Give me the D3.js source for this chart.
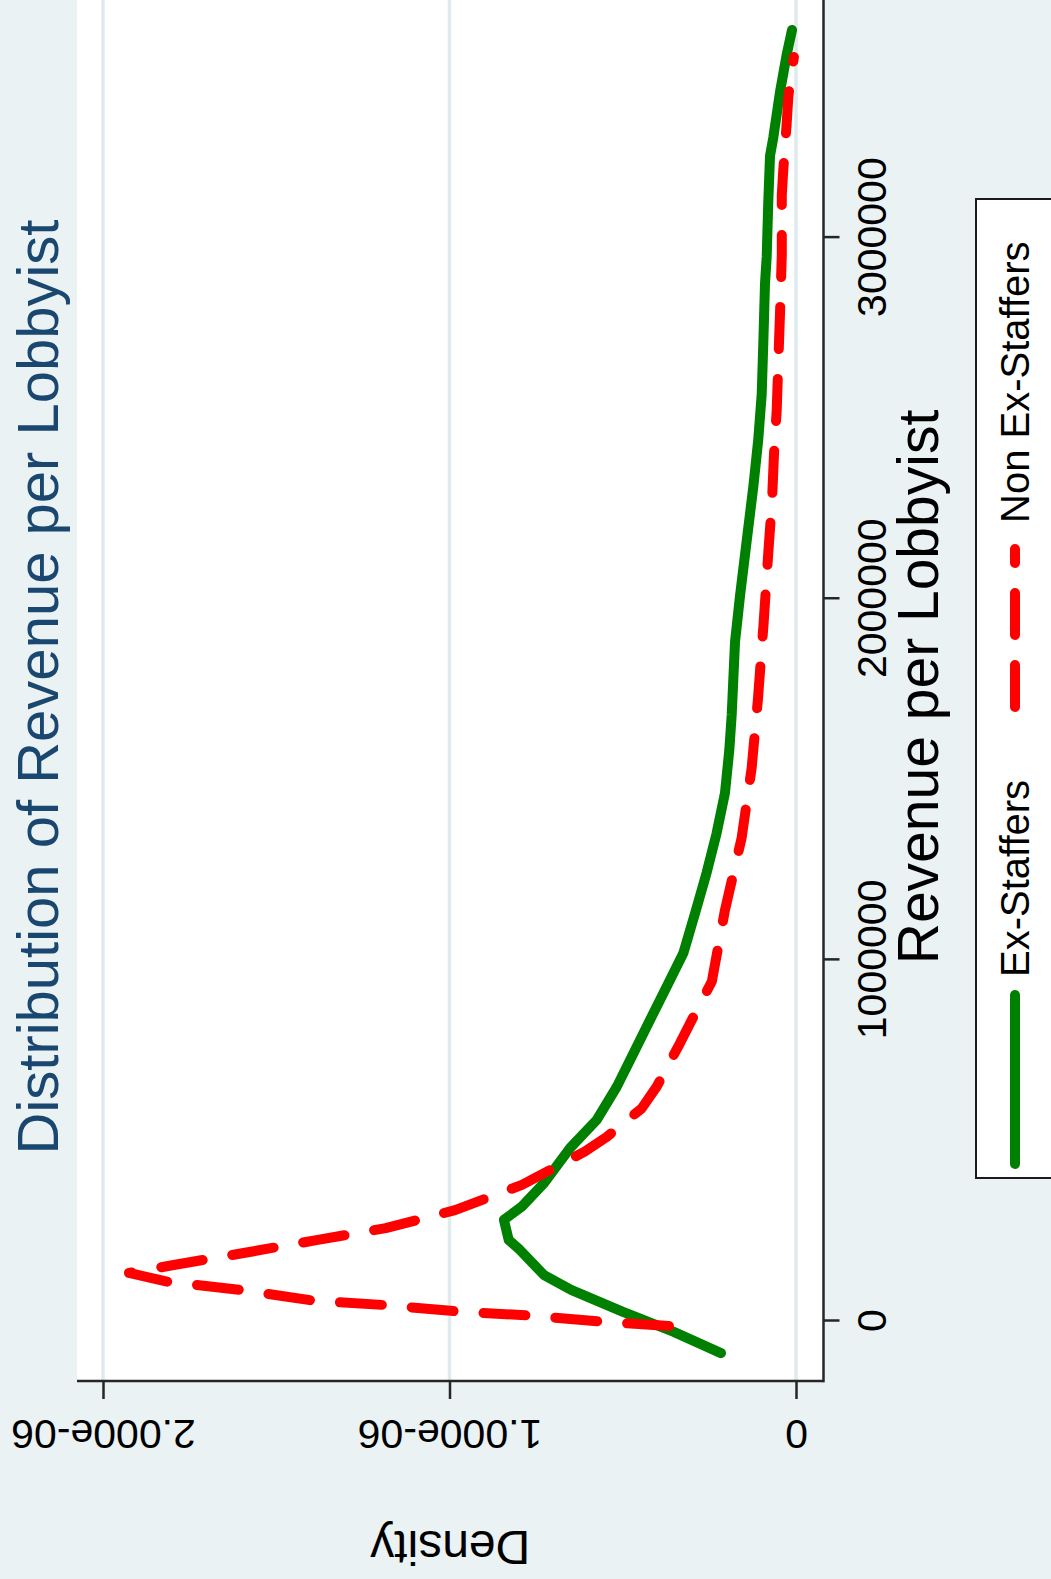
<!DOCTYPE html>
<html>
<head>
<meta charset="utf-8">
<script src="https://cdn.jsdelivr.net/npm/d3@7/dist/d3.min.js"></script>
<style>
  html, body { margin: 0; padding: 0; background: #EAF2F3; }
  svg { display: block; }
</style>
</head>
<body>
<svg id="chart" width="1051" height="1579"></svg>
<script>
// ---- text ----
const titleText = "Distribution of Revenue per Lobbyist";
const xTitle = "Revenue per Lobbyist";
const yTitle = "Density";
const seriesNames = ["Ex-Staffers", "Non Ex-Staffers"];

// ---- axis ticks ----
const revenueTicks = [0, 1000000, 2000000, 3000000];
const densityTicks = [0, 1e-6, 2e-6];
const densityTickLabels = ["0", "1.000e-06", "2.000e-06"];

// ---- kernel density, Ex-Staffers ----
const exRevenue = [-89000, -30000, 26000, 86000, 127000, 197000, 224000, 280000, 317000, 382000,
  479000, 557000, 649000, 732000, 834000, 926000, 1019000, 1130000, 1241000, 1351000,
  1462000, 1581000, 1678000, 1880000, 2008000, 2160000, 2312000, 2440000, 2566000, 2719000,
  2872000, 2947000, 3099000, 3226000, 3277000, 3404000, 3506000, 3575000];
const exDensity = [0.2165e-6, 0.3527e-6, 0.501e-6, 0.649e-6, 0.727e-6, 0.797e-6, 0.829e-6, 0.843e-6, 0.791e-6, 0.727e-6,
  0.652e-6, 0.575e-6, 0.517e-6, 0.474e-6, 0.421e-6, 0.373e-6, 0.325e-6, 0.291e-6, 0.258e-6, 0.229e-6,
  0.205e-6, 0.1925e-6, 0.1856e-6, 0.176e-6, 0.1616e-6, 0.1423e-6, 0.123e-6, 0.109e-6, 0.099e-6, 0.094e-6,
  0.0895e-6, 0.0846e-6, 0.080e-6, 0.075e-6, 0.0655e-6, 0.046e-6, 0.027e-6, 0.0115e-6];

// ---- kernel density, Non Ex-Staffers ----
const nonRevenue = [-14000, -2000, 15000, 26000, 44000, 56000, 86000, 109000, 133000, 155000,
  189000, 224000, 257000, 307000, 377000, 469000, 510000, 589000, 649000, 769000,
  824000, 940000, 1138000, 1337000, 1531000, 1720000, 1925000, 2127000, 2274000, 2401000,
  2521000, 2656000, 2794000, 2952000, 3118000, 3187000, 3315000, 3392000, 3500000];
const nonDensity = [0.3665e-6, 0.559e-6, 0.765e-6, 0.971e-6, 1.184e-6, 1.390e-6, 1.603e-6, 1.815e-6, 1.925e-6, 1.796e-6,
  1.590e-6, 1.384e-6, 1.184e-6, 0.984e-6, 0.791e-6, 0.610e-6, 0.546e-6, 0.445e-6, 0.402e-6, 0.335e-6,
  0.306e-6, 0.243e-6, 0.205e-6, 0.157e-6, 0.128e-6, 0.110e-6, 0.094e-6, 0.080e-6, 0.069e-6, 0.0635e-6,
  0.0557e-6, 0.051e-6, 0.046e-6, 0.041e-6, 0.041e-6, 0.0367e-6, 0.027e-6, 0.022e-6, 0.006e-6];

// ---- colours & styles ----
const FONT = "'Liberation Sans', Arial, Helvetica, sans-serif";
const BG = "#EAF2F3";
const GRID = "#DFEAED";
const AXIS = "#262626";
const TITLE_COLOR = "#1A476F";
const EX_COLOR = "#008000";
const NON_COLOR = "#FF0000";
const DASH = "42,30";

// The graph is laid out in landscape (W x H) and turned a quarter turn onto the page.
const W = 1579, H = 1051;
const svg = d3.select("#chart");
svg.append("rect").attr("width", 1051).attr("height", 1579).attr("fill", BG);
const g = svg.append("g").attr("transform", `translate(0,${W}) rotate(-90)`);

const plot = { left: 198, right: 1620, top: 77, bottom: 823.5 };

const x = d3.scaleLinear().domain([0, 3000000]).range([258, 1341.4]);
const y = d3.scaleLinear().domain([0, 2e-6]).range([796, 103]);

// plot region
g.append("rect")
  .attr("x", plot.left).attr("y", plot.top)
  .attr("width", plot.right - plot.left).attr("height", plot.bottom - plot.top)
  .attr("fill", "#FFFFFF");

// horizontal grid at density ticks
g.append("g").selectAll("line").data(densityTicks).join("line")
  .attr("x1", plot.left).attr("x2", plot.right)
  .attr("y1", d => y(d)).attr("y2", d => y(d))
  .attr("stroke", GRID).attr("stroke-width", 3.5);

// density curves
const line = d3.line().x(d => x(d[0])).y(d => y(d[1]));
const exPts = exRevenue.map((r, i) => [r, exDensity[i]]);
const nonPts = nonRevenue.map((r, i) => [r, nonDensity[i]]);

g.append("path").datum(exPts)
  .attr("d", line).attr("fill", "none")
  .attr("stroke", EX_COLOR).attr("stroke-width", 10)
  .attr("stroke-linejoin", "round").attr("stroke-linecap", "round");

g.append("path").datum(nonPts)
  .attr("d", line).attr("fill", "none")
  .attr("stroke", NON_COLOR).attr("stroke-width", 10)
  .attr("stroke-dasharray", DASH)
  .attr("stroke-linejoin", "round").attr("stroke-linecap", "round");

// axis lines along the plot edges
g.append("line")
  .attr("x1", plot.left).attr("x2", plot.left)
  .attr("y1", plot.top).attr("y2", plot.bottom)
  .attr("stroke", AXIS).attr("stroke-width", 2.5);
g.append("line")
  .attr("x1", plot.left - 1.2).attr("x2", plot.right)
  .attr("y1", plot.bottom).attr("y2", plot.bottom)
  .attr("stroke", AXIS).attr("stroke-width", 2.5);

// revenue axis (bottom)
const xAxis = g.append("g")
  .attr("transform", `translate(0,${plot.bottom})`)
  .call(d3.axisBottom(x).tickValues(revenueTicks).tickSize(16).tickSizeOuter(0)
    .tickFormat(d3.format("d")));
xAxis.select(".domain").remove();
xAxis.selectAll(".tick line").attr("stroke", AXIS).attr("stroke-width", 2.5);
xAxis.selectAll(".tick text")
  .attr("y", 62.5).attr("dy", null)
  .attr("fill", "#000").style("font-family", FONT).style("font-size", "41px");

// density axis (left)
const yAxis = g.append("g")
  .attr("transform", `translate(${plot.left},0)`)
  .call(d3.axisLeft(y).tickValues(densityTicks).tickSize(18).tickSizeOuter(0)
    .tickFormat((d, i) => densityTickLabels[i]));
yAxis.select(".domain").remove();
yAxis.selectAll(".tick line").attr("stroke", AXIS).attr("stroke-width", 2.5);
yAxis.selectAll(".tick text")
  .attr("x", null).attr("dy", null)
  .attr("text-anchor", "middle")
  .attr("transform", "translate(-39,0) rotate(-90)")
  .attr("fill", "#000").style("font-family", FONT).style("font-size", "41px");

// axis titles
g.append("text")
  .attr("x", 892).attr("y", 938)
  .attr("text-anchor", "middle")
  .attr("fill", "#000").style("font-family", FONT).style("font-size", "57px")
  .text(xTitle);

g.append("text")
  .attr("transform", `translate(48,${(plot.top + plot.bottom) / 2}) rotate(-90)`)
  .attr("text-anchor", "middle")
  .attr("fill", "#000").style("font-family", FONT).style("font-size", "48px")
  .text(yTitle);

// title
g.append("text")
  .attr("x", 892).attr("y", 58)
  .attr("text-anchor", "middle")
  .attr("fill", TITLE_COLOR).style("font-family", FONT).style("font-size", "58px")
  .text(titleText);

// legend
const legend = g.append("g");
legend.append("rect")
  .attr("x", 401).attr("y", 976).attr("width", 979).attr("height", 140)
  .attr("fill", "#FFFFFF").attr("stroke", "#1a1a1a").attr("stroke-width", 2);

const keys = [
  { name: seriesNames[0], color: EX_COLOR, dash: null, x1: 415, x2: 584, tx: 602 },
  { name: seriesNames[1], color: NON_COLOR, dash: DASH, x1: 872, x2: 1030, tx: 1056 }
];
keys.forEach(k => {
  legend.append("line")
    .attr("x1", k.x1).attr("x2", k.x2).attr("y1", 1015).attr("y2", 1015)
    .attr("stroke", k.color).attr("stroke-width", 10)
    .attr("stroke-linecap", "round")
    .attr("stroke-dasharray", k.dash);
  legend.append("text")
    .attr("x", k.tx).attr("y", 1029)
    .attr("fill", "#000").style("font-family", FONT).style("font-size", "40px")
    .text(k.name);
});
</script>
</body>
</html>
